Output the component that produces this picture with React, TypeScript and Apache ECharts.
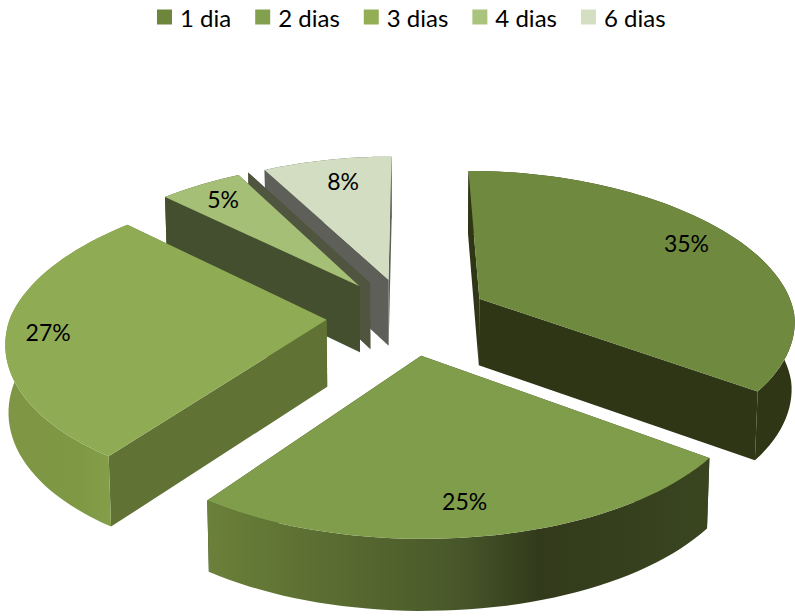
import React, { useEffect, useRef } from "react";
import * as echarts from "echarts";

const categories = ["1 dia", "2 dias", "3 dias", "4 dias", "", "6 dias"];
const values = [35, 25, 27, 5, 0, 8];
const legendNames = ["1 dia", "2 dias", "3 dias", "4 dias", "6 dias"];
const topColors = ["#6f8a3e", "#7f9d4a", "#8fac55", "#a5bf76", "#5c5f50", "#d3ddc1"];
const legendColors = ["#6e853c", "#83a04e", "#93ae55", "#aac47e", "#5c5f50", "#d4dfc2"];
const cutColors = ["#2e3615", "#3a4520", "#607334", "#434f2e", "#50553f", "#5d5f58"];
const rimStops: [number, string][][] = [
  [[0, "#2e3615"], [1, "#2e3615"]],
  [[0, "#6b803a"], [0.3, "#56682f"], [0.5, "#48572a"], [0.66, "#323a1b"], [1, "#3a4520"]],
  [[0, "#7e9645"], [0.6, "#7f9844"], [1, "#88a24b"]],
  [[0, "#434f2e"], [1, "#434f2e"]],
  [[0, "#50553f"], [1, "#50553f"]],
  [[0, "#5d5f58"], [1, "#5d5f58"]],
];
const labelRadius = [0.83, 0.82, 0.87, 0.84, 0.83, 0.8];
const labelTurn = [-2, 1, 0, 0, 0, 1.5];
const drawOrder = [5, 4, 3, 0, 2, 1];

const CX = 408, CY = 316, RU = 316, RV = 150, DEPTH = 67, LOWER_X = 0.992;
const EXPLODE = 0.258;

const total = values.reduce((a, b) => a + b, 0);
const rad = (d: number) => (d * Math.PI) / 180;

function project(u: number, v: number, z: number): number[] {
  const sx = v >= 0 ? 1 / (1 - 0.13 * v) : 1 + 0.15 * v;
  const yv = RV * v + (v >= 0 ? 22 : 18) * v * v;
  return [CX + RU * u * sx * (z ? LOWER_X : 1), CY + yv + z * DEPTH * (1 + 0.06 * v)];
}

function angles(i: number): [number, number] {
  const before = values.slice(0, i).reduce((a, b) => a + b, 0);
  return [(before / total) * 360, ((before + values[i]) / total) * 360];
}

function sliceShapes(i: number) {
  const [a0, a1] = angles(i);
  const mid = rad((a0 + a1) / 2);
  const ox = EXPLODE * Math.sin(mid);
  const oy = -EXPLODE * Math.cos(mid);
  const rim = (deg: number, z: number, r = 1) =>
    project(ox + r * Math.sin(rad(deg)), oy - r * Math.cos(rad(deg)), z);
  const apex0 = project(ox, oy, 0);
  const apex1 = project(ox, oy, 1);
  const n = Math.max(2, Math.ceil((a1 - a0) / 2));
  const arcTop: number[][] = [];
  const arcBot: number[][] = [];
  for (let k = 0; k <= n; k++) {
    const d = a0 + ((a1 - a0) * k) / n;
    arcTop.push(rim(d, 0));
    arcBot.push(rim(d, 1));
  }
  const children: any[] = [];
  const poly = (points: number[][], fill: any) =>
    children.push({ type: "polygon", silent: true, shape: { points }, style: { fill, stroke: null } });
  poly([apex0, rim(a1, 0), rim(a1, 1), apex1], cutColors[i]);
  poly([apex0, rim(a0, 0), rim(a0, 1), apex1], cutColors[i]);
  if (values[i] > 0) {
    poly(
      [...arcTop, ...arcBot.slice().reverse()],
      new echarts.graphic.LinearGradient(
        0, 0, 1, 0,
        rimStops[i].map(([offset, color]) => ({ offset, color }))
      )
    );
    poly([apex0, ...arcTop], topColors[i]);
    const [lx, ly] = rim((a0 + a1) / 2 + labelTurn[i], 0, labelRadius[i]);
    children.push({
      type: "text",
      silent: true,
      style: {
        x: lx,
        y: ly,
        text: `${Math.round((values[i] / total) * 100)}%`,
        fill: "#000",
        fontFamily: "Lato",
        fontSize: 23,
        align: "center",
        verticalAlign: "middle",
      },
    });
  }
  return { type: "group", children };
}

export default function App() {
  const ref = useRef<HTMLDivElement>(null);
  useEffect(() => {
    const chart = echarts.init(ref.current!, null, { renderer: "svg" });
    chart.setOption({
      animation: false,
      backgroundColor: "#fff",
      legend: {
        data: legendNames,
        left: 157,
        top: 5,
        padding: 0,
        itemWidth: 15,
        itemHeight: 15,
        itemGap: 24,
        icon: "rect",
        selectedMode: false,
        textStyle: { fontFamily: "Lato", fontSize: 24, color: "#000", padding: [0, 0, 0, 3] },
      },
      series: drawOrder.map((i) => ({
        type: "custom",
        name: categories[i],
        coordinateSystem: "none",
        silent: true,
        itemStyle: { color: legendColors[i] },
        data: [[values[i]]],
        renderItem: () => sliceShapes(i),
      })),
    });
    return () => chart.dispose();
  }, []);
  return <div ref={ref} style={{ position: "fixed", left: 0, top: 0, width: 795, height: 616 }} />;
}
